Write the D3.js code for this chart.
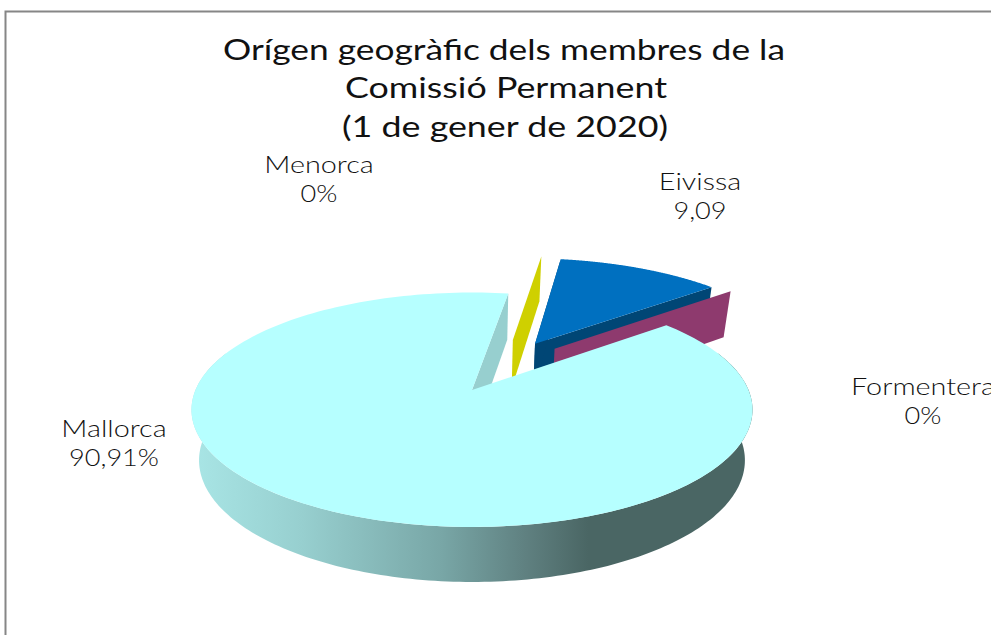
<!DOCTYPE html>
<html>
<head>
<meta charset="utf-8">
<script src="https://cdn.jsdelivr.net/npm/d3@7"></script>
<style>
  html, body { margin: 0; padding: 0; background: #fff; overflow: hidden; }
  text { font-family: Lato, sans-serif; fill: #111; }
</style>
</head>
<body>
<div class="chart"></div>
<script>
// values as printed on the chart, in drawing order clockwise from the gap
var categories = ["Menorca", "Eivissa", "Formentera", "Mallorca"];
var shares = [0, 9.09, 0, 90.91];
var value_labels = ["0%", "9,09", "0%", "90,91%"];
var title_lines = ["Orígen geogràfic dels membres de la", "Comissió Permanent", "(1 de gener de 2020)"];

var slice_colors = {
  Menorca: { top: "#cfd000", wall: "#cfd000" },
  Eivissa: { top: "#0070c0", wall: "#004675" },
  Formentera: { top: "#8e3a6e", wall: "#8e3a6e" },
  Mallorca: { top: "#b6ffff", wall: "#97cfcf" }
};
// how far each slice is pulled out, and in which direction (degrees)
var explode = { Menorca: [0.5, 18.6], Eivissa: [0.5, 29.3], Formentera: [0.5, 39.5], Mallorca: [0, 0] };

var width = 991, height = 635;
var rad = Math.PI / 180;

var svg = d3.select(".chart").append("svg")
  .attr("width", width)
  .attr("height", height)
  .style("display", "block");

// border of the chart area, it runs off the picture on the right and bottom
svg.append("path")
  .attr("d", "M5.5,635V11.5H991")
  .attr("fill", "none")
  .attr("stroke", "#868686")
  .attr("stroke-width", 2);

// d3.pie gives the running share, the scale below turns it into the pictured angle
var pie_data = d3.pie().sort(null).value(d => d)(shares);
var angle_scale = d3.scaleLinear()
  .domain([0, 2 * Math.PI * 0.0909, 2 * Math.PI])
  .range([8.8, 51, 368.8]);

// perspective view of the pie plane
function project(u, v) {
  var w = 1 - 0.1684 * v;
  return [472 + 276.5 * u / w, (390 + 48.2 * v) / w];
}
function lower(p) {
  return [471 + (p[0] - 471) * 0.973, p[1] * 1.038 + 35];
}
function point(theta, r, name) {
  var e = explode[name];
  var u = r * Math.sin(theta * rad) + e[0] * Math.sin(e[1] * rad);
  var v = -r * Math.cos(theta * rad) - e[0] * Math.cos(e[1] * rad);
  return project(u, v);
}
var line = d3.line();

var slices = pie_data.map((d, i) => ({
  name: categories[i],
  a0: angle_scale(d.startAngle),
  a1: angle_scale(d.endAngle)
}));
var by_name = {};
slices.forEach(s => { by_name[s.name] = s; });

function arc_points(s) {
  return d3.range(0, 201).map(k => point(s.a0 + (s.a1 - s.a0) * k / 200, 1, s.name));
}
function top_path(s) {
  return line([point(0, 0, s.name)].concat(arc_points(s))) + "Z";
}
function radial_wall(name, theta) {
  var a = point(theta, 0, name), b = point(theta, 1, name);
  return line([a, b, lower(b), lower(a)]) + "Z";
}

var defs = svg.append("defs");
var grad = defs.append("linearGradient")
  .attr("id", "wall_grad")
  .attr("gradientUnits", "userSpaceOnUse")
  .attr("x1", 190).attr("x2", 751).attr("y1", 0).attr("y2", 0);
[[0, "#a9e6e6"], [0.2, "#97cfcf"], [0.45, "#78a6a6"], [0.6, "#5f8080"], [0.71, "#4a6664"], [1, "#4a6664"]]
  .forEach(d => grad.append("stop").attr("offset", d[0]).attr("stop-color", d[1]));

var g = svg.append("g").attr("class", "pie");

// back to front: Eivissa, Formentera, Menorca, then Mallorca
var e = by_name.Eivissa;
g.append("path").attr("d", radial_wall("Eivissa", e.a1)).attr("fill", slice_colors.Eivissa.wall);
g.append("path").attr("d", radial_wall("Eivissa", e.a0)).attr("fill", slice_colors.Eivissa.wall);
g.append("path").attr("d", top_path(e)).attr("fill", slice_colors.Eivissa.top);

g.append("path").attr("d", radial_wall("Formentera", by_name.Formentera.a0)).attr("fill", slice_colors.Formentera.wall);
g.append("path").attr("d", radial_wall("Menorca", by_name.Menorca.a0)).attr("fill", slice_colors.Menorca.wall);

var m = by_name.Mallorca;
g.append("path").attr("d", radial_wall("Mallorca", m.a1)).attr("fill", slice_colors.Mallorca.wall);
// only the front of the rim shows, the back would poke through the gap
var rim = arc_points({ name: "Mallorca", a0: 70, a1: 290 });
g.append("path")
  .attr("d", line(rim.concat(rim.map(lower).reverse())) + "Z")
  .attr("fill", "url(#wall_grad)");
g.append("path").attr("d", top_path(m)).attr("fill", slice_colors.Mallorca.top);

// title, stretched to the width of the wider face used in the original
var title_layout = [[504, 60, 562], [506, 98, 322], [505, 137, 326]];
svg.append("g").selectAll("text")
  .data(title_lines)
  .enter()
  .append("text")
    .attr("x", (d, i) => title_layout[i][0])
    .attr("y", (d, i) => title_layout[i][1])
    .attr("text-anchor", "middle")
    .attr("textLength", (d, i) => title_layout[i][2])
    .attr("lengthAdjust", "spacingAndGlyphs")
    .style("font-size", "29px")
    .style("font-weight", 400)
    .text(d => d);

// data labels
var label_pos = {
  Menorca: [319, 173],
  Eivissa: [700, 190],
  Formentera: [923, 395],
  Mallorca: [114, 437]
};
function add_label(text, x, y, stretch) {
  var t = svg.append("text")
    .attr("x", x)
    .attr("y", y)
    .attr("text-anchor", "middle")
    .style("font-size", "24px")
    .style("font-weight", 300)
    .text(text);
  t.attr("textLength", t.node().getComputedTextLength() * stretch)
    .attr("lengthAdjust", "spacingAndGlyphs");
}
categories.forEach((name, i) => {
  var p = label_pos[name];
  add_label(name, p[0], p[1], 1.2);
  add_label(value_labels[i], p[0], p[1] + 29, 1.13);
});
</script>
</body>
</html>
